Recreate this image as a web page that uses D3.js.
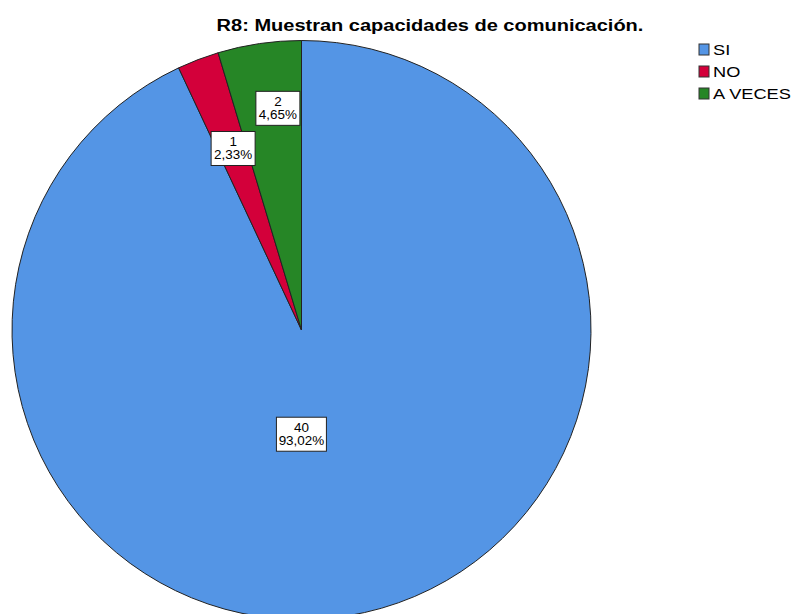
<!DOCTYPE html>
<html>
<head>
<meta charset="utf-8">
<script src="https://cdn.jsdelivr.net/npm/d3@7"></script>
<style>
  body { margin: 0; background: #fff; }
  text { font-family: "Liberation Sans", Arial, sans-serif; }
</style>
</head>
<body>
<script>
// data
var categories = ["SI", "NO", "A VECES"];
var counts = [40, 1, 2];
var percentLabels = ["93,02%", "2,33%", "4,65%"];
var colors = ["#5495E5", "#D3003A", "#268626"];

var width = 793, height = 614;
var cx = 301.5, cy = 330, radius = 289.5;

var svg = d3.select("body")
    .append("svg")
    .attr("width", width)
    .attr("height", height);

// the reference output is a bit wider than tall, so text glyphs are stretched
function stretch(sel, k){
    sel.each(function(){
        var len = this.getComputedTextLength();
        d3.select(this)
            .attr("textLength", len * k)
            .attr("lengthAdjust", "spacingAndGlyphs");
    });
}

// title
svg.append("text")
    .attr("x", 430)
    .attr("y", 31)
    .attr("text-anchor", "middle")
    .style("font-size", "16px")
    .style("font-weight", "bold")
    .text("R8: Muestran capacidades de comunicación.")
    .call(stretch, 1.25);

var pie = d3.pie().sort(null).value(function(d){ return d; });
var arcs = pie(counts);

var arc = d3.arc().innerRadius(0).outerRadius(radius);

var g = svg.append("g")
    .attr("transform", "translate(" + cx + "," + cy + ")");

g.selectAll("path")
    .data(arcs)
    .enter()
    .append("path")
    .attr("d", arc)
    .attr("fill", function(d, i){ return colors[i]; })
    .attr("stroke", "#222")
    .attr("stroke-width", 1);

// label placement (fraction of radius, angle shift), SPSS-like
var labelR = [0.36, 0.67, 0.77];
var labelShift = [0.22, 0.005, 0.04];

var labels = g.selectAll(".lbl")
    .data(arcs)
    .enter()
    .append("g")
    .attr("class", "lbl")
    .attr("transform", function(d, i){
        var a = (d.startAngle + d.endAngle) / 2 + labelShift[i];
        var r = radius * labelR[i];
        return "translate(" + (Math.sin(a) * r) + "," + (-Math.cos(a) * r) + ")";
    });

labels.append("rect")
    .attr("x", function(d, i){ return i == 0 ? -25 : -22; })
    .attr("y", -17)
    .attr("width", function(d, i){ return i == 0 ? 50 : 44; })
    .attr("height", 34)
    .attr("fill", "#fff")
    .attr("stroke", "#222")
    .attr("stroke-width", 1);

labels.append("text")
    .attr("text-anchor", "middle")
    .attr("y", -2)
    .style("font-size", "12px")
    .text(function(d){ return d.value; })
    .call(stretch, 1.12);

labels.append("text")
    .attr("text-anchor", "middle")
    .attr("y", 11)
    .style("font-size", "12px")
    .text(function(d, i){ return percentLabels[i]; })
    .call(stretch, 1.12);

// legend
var legend = svg.append("g")
    .attr("transform", "translate(699,44)");

var items = legend.selectAll("g")
    .data(categories)
    .enter()
    .append("g")
    .attr("transform", function(d, i){ return "translate(0," + (i * 22) + ")"; });

items.append("rect")
    .attr("width", 10)
    .attr("height", 11)
    .attr("fill", function(d, i){ return colors[i]; })
    .attr("stroke", "#333");

items.append("text")
    .attr("x", 14)
    .attr("y", 11)
    .style("font-size", "14px")
    .text(function(d){ return d; })
    .call(stretch, 1.3);
</script>
</body>
</html>
